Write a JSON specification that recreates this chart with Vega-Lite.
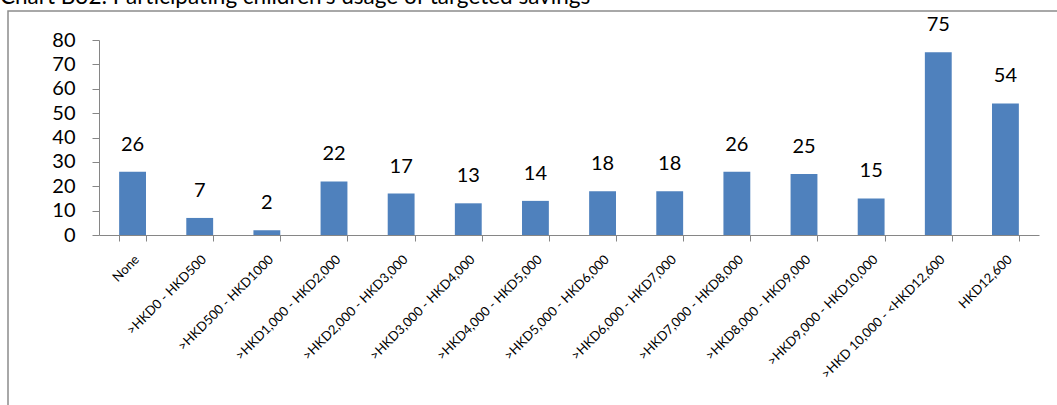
{
  "$schema": "https://vega.github.io/schema/vega-lite/v6.json",
  "autosize": {"type": "none"},
  "padding": {"left": 8, "top": 11, "right": -23, "bottom": -3},
  "width": 1072,
  "height": 397,
  "background": "white",
  "title": {
    "text": "Chart B32: Participating children's usage of targeted savings",
    "anchor": "start",
    "frame": "group",
    "dx": -8,
    "dy": 20,
    "offset": 5,
    "baseline": "alphabetic",
    "font": "Lato",
    "fontSize": 22.5,
    "fontWeight": "normal",
    "color": "black"
  },
  "config": {
    "view": {"stroke": "#8c8c8c", "strokeWidth": 1.5},
    "axis": {"domainColor": "#868686", "tickColor": "#868686", "labelColor": "black", "labelFont": "Lato", "grid": false, "title": null}
  },
  "data": {
    "values": [
      {"range": "None", "children": 26},
      {"range": ">HKD0 - HKD500", "children": 7},
      {"range": ">HKD500 - HKD1000", "children": 2},
      {"range": ">HKD1,000 - HKD2,000", "children": 22},
      {"range": ">HKD2,000 - HKD3,000", "children": 17},
      {"range": ">HKD3,000 - HKD4,000", "children": 13},
      {"range": ">HKD4,000 - HKD5,000", "children": 14},
      {"range": ">HKD5,000 - HKD6,000", "children": 18},
      {"range": ">HKD6,000 - HKD7,000", "children": 18},
      {"range": ">HKD7,000 - HKD8,000", "children": 26},
      {"range": ">HKD8,000 - HKD9,000", "children": 25},
      {"range": ">HKD9,000 - HKD10,000", "children": 15},
      {"range": ">HKD 10,000 - <HKD12,600", "children": 75},
      {"range": "HKD12,600", "children": 54}
    ]
  },
  "encoding": {
    "x": {
      "field": "range",
      "type": "nominal",
      "sort": null,
      "scale": {"range": [91, 1031], "paddingInner": 0.6, "paddingOuter": 0.3},
      "axis": {
        "orient": "bottom",
        "offset": -173,
        "tickBand": "extent",
        "tickSize": 6,
        "labelAngle": -45,
        "labelAlign": "right",
        "labelBaseline": "middle",
        "labelFontSize": 13,
        "labelPadding": 16,
        "labelOffset": 4
      }
    },
    "y": {
      "field": "children",
      "type": "quantitative",
      "scale": {"domain": [0, 80], "range": [224, 29], "nice": false},
      "axis": {
        "offset": -91,
        "values": [0, 10, 20, 30, 40, 50, 60, 70, 80],
        "tickSize": 7,
        "labelFontSize": 20,
        "labelPadding": 17
      }
    }
  },
  "layer": [
    {"mark": {"type": "bar", "color": "#4F81BD"}},
    {
      "mark": {"type": "text", "baseline": "alphabetic", "dy": -21, "font": "Lato", "fontSize": 20, "color": "black"},
      "encoding": {"text": {"field": "children", "type": "quantitative"}}
    }
  ]
}
